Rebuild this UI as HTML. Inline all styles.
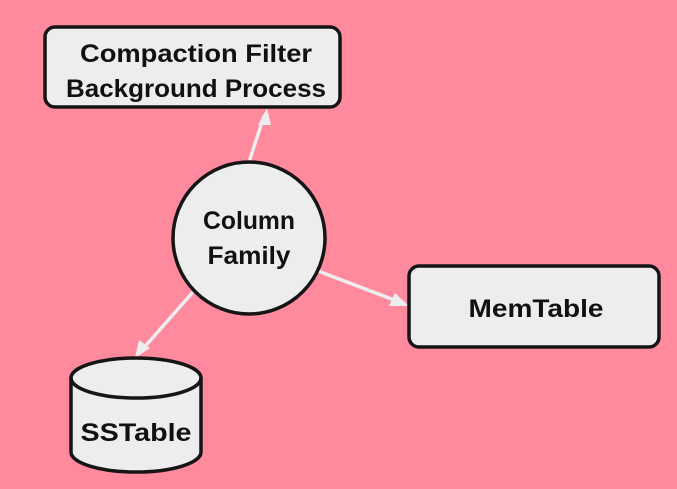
<!DOCTYPE html>
<html><head><style>
html,body{margin:0;padding:0;background:#ff8a9e;}
svg{display:block}
text{font-family:"Liberation Sans",sans-serif;font-size:25px;font-weight:bold;fill:#111;text-anchor:middle}
</style></head><body>
<svg width="677" height="489" viewBox="0 0 677 489" xmlns="http://www.w3.org/2000/svg">
<rect width="677" height="489" fill="#ff8a9e"/>
<g stroke="#eee" stroke-width="3.5" fill="none">
<line x1="249" y1="162" x2="264" y2="116"/>
<line x1="318" y1="271" x2="402" y2="303"/>
<line x1="193" y1="292" x2="141" y2="351"/>
</g>
<g fill="#eee">
<polygon points="267,108 258,125 271,125"/>
<polygon points="409,306 389,306 395,293"/>
<polygon points="135,358 139,340 150,348"/>
</g>
<g fill="#ededed" stroke="#151515" stroke-width="3.5">
<rect x="45" y="27" width="295" height="80" rx="10"/>
<ellipse cx="249" cy="238" rx="76" ry="76"/>
<rect x="409" y="266" width="250" height="81" rx="10"/>
<path d="M71,378 L71,452 A65,20 0 0 0 201,452 L201,378 A65,20 0 0 0 71,378 Z"/>
<path d="M71,378 A65,20 0 0 0 201,378" fill="none"/>
</g>
<text x="196" y="62" textLength="232" lengthAdjust="spacingAndGlyphs">Compaction Filter</text>
<text x="196" y="97" textLength="260" lengthAdjust="spacingAndGlyphs">Background Process</text>
<text x="249" y="229" textLength="92" lengthAdjust="spacingAndGlyphs">Column</text>
<text x="249" y="264" textLength="83" lengthAdjust="spacingAndGlyphs">Family</text>
<text x="536" y="317" textLength="135" lengthAdjust="spacingAndGlyphs">MemTable</text>
<text x="136" y="441" textLength="111" lengthAdjust="spacingAndGlyphs">SSTable</text>
</svg>
</body></html>
